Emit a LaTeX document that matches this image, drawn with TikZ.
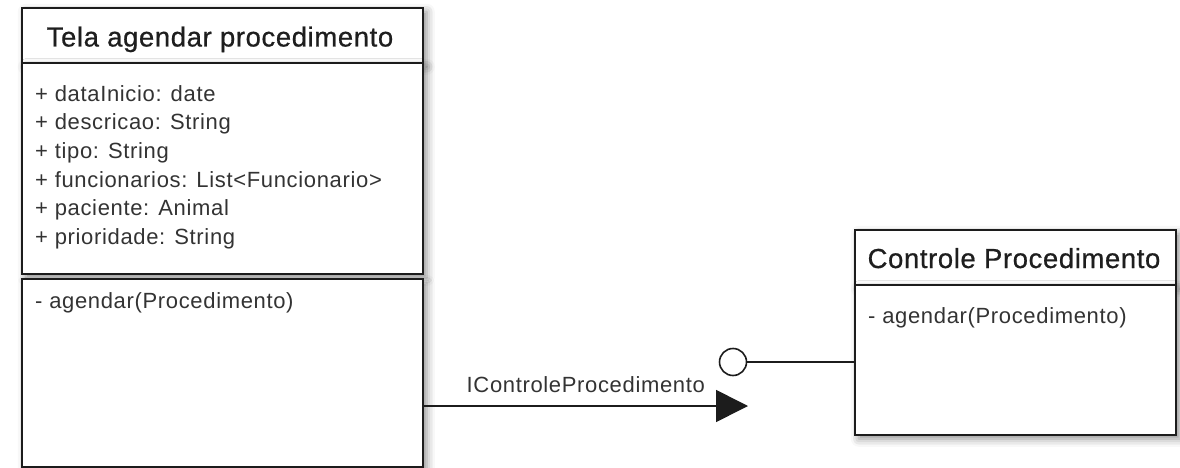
\documentclass[tikz,border=0pt]{standalone}
\usepackage{fontspec}
\setmainfont{Liberation Sans}
\usepackage{xcolor}
\definecolor{boxline}{HTML}{1C1C1C}
\definecolor{ink}{HTML}{1E1E1E}
\definecolor{soft}{HTML}{333333}
\usetikzlibrary{arrows.meta,shadows.blur}
\tikzset{
  umlbox/.style={draw=boxline,line width=1.6pt,fill=white,anchor=north west,inner sep=0pt,
    blur shadow={shadow xshift=4pt,shadow yshift=-4pt,shadow blur radius=8pt,shadow opacity=45}},
  ttl/.style={font=\fontsize{27.5}{30}\selectfont\addfontfeature{LetterSpace=2.2,FakeBold=0.6},text=ink,anchor=base,inner sep=0pt},
  attr/.style={font=\fontsize{22}{26}\selectfont\addfontfeature{LetterSpace=3},text=soft,anchor=base west,inner sep=0pt},
  arr/.style={-{Triangle[length=32pt,width=32pt]},line width=1.6pt,draw=boxline},
  lollipop/.style={circle,draw=boxline,line width=1.6pt,fill=white,minimum size=27pt,inner sep=0pt}}

\begin{document}
\begin{tikzpicture}[x=1pt,y=-1pt]
  \useasboundingbox (0,0) rectangle (1180,468);
  % tela (boundary class)
  \node[umlbox,minimum width=401pt,minimum height=55pt] (thead) at (21,7) {};
  \node[umlbox,minimum width=401pt,minimum height=211pt] (tattr) at (21,62) {};
  \node[umlbox,minimum width=401pt,minimum height=188pt] (tmet) at (21,278) {};
  \node[ttl] (ttitle) at (220,46.5) {Tela agendar procedimento};
  \foreach \t [count=\i from 0] in {+ dataInicio: date,+ descricao: String,+ tipo: String,
      + funcionarios: List<Funcionario>,+ paciente: Animal,+ prioridade: String}
    \node[attr] (a\i) at (35,101.5+28.5*\i) {\t};
  \node[attr] (tm) at (35,308) {- agendar(Procedimento)};
  % controle
  \node[umlbox,minimum width=321pt,minimum height=55pt] (chead) at (854,229) {};
  \node[umlbox,minimum width=321pt,minimum height=150pt] (cbody) at (854,284) {};
  \node[ttl] (ctitle) at (1014,268) {Controle Procedimento};
  \node[attr] (cm) at (868,323) {- agendar(Procedimento)};
  % interface
  \node[lollipop] (lolli) at (733,362) {};
  \draw[draw=boxline,line width=1.6pt] (lolli.east) -- (lolli.east -| chead.west);
  \coordinate (tip) at (748,406);
  \draw[arr] (tip -| tmet.east) -- node[attr,anchor=base,above=12pt,midway] (ilbl) {IControleProcedimento} (tip);
\end{tikzpicture}
\end{document}
